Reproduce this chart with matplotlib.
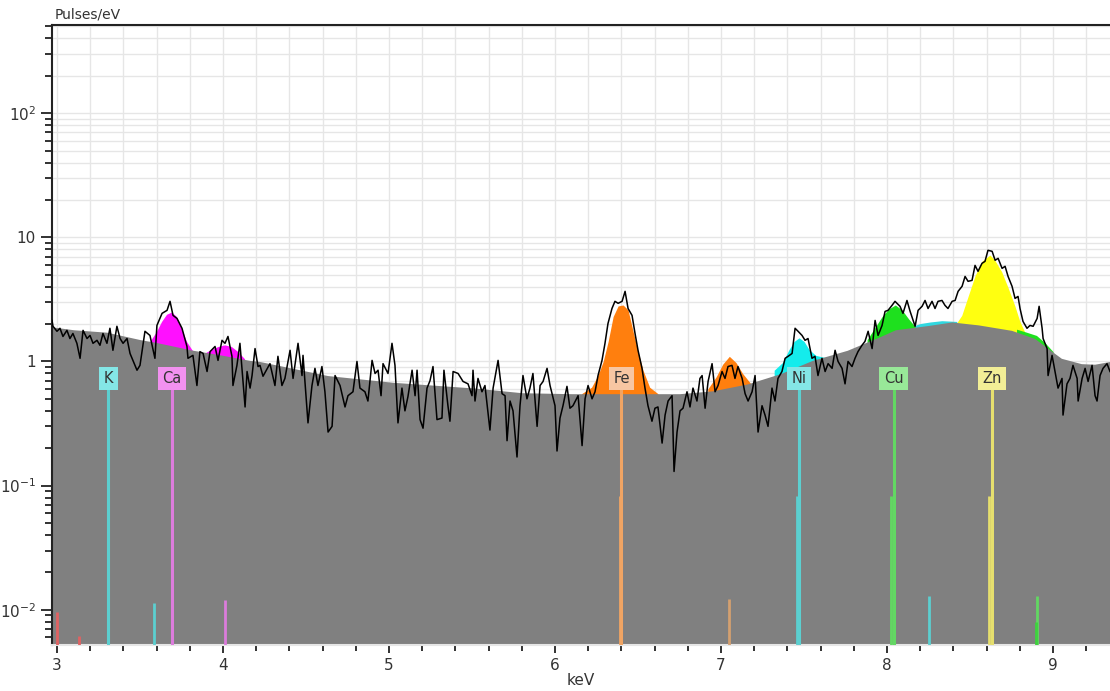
import numpy as np
import matplotlib
matplotlib.use("Agg")
import matplotlib.pyplot as plt
from matplotlib.ticker import FixedLocator, FuncFormatter, LogLocator, MultipleLocator, NullFormatter

spec_kev = [2.970, 2.976, 3.000, 3.018, 3.036, 3.060, 3.078, 3.096, 3.120, 3.139,
            3.157, 3.181, 3.199, 3.217, 3.241, 3.259, 3.277, 3.301, 3.319, 3.337,
            3.361, 3.380, 3.398, 3.422, 3.440, 3.482, 3.500, 3.530, 3.560, 3.590,
            3.602, 3.633, 3.663, 3.681, 3.699, 3.723, 3.753, 3.783, 3.789, 3.819,
            3.843, 3.861, 3.880, 3.904, 3.922, 3.952, 3.970, 3.994, 4.012, 4.030,
            4.054, 4.060, 4.084, 4.102, 4.133, 4.145, 4.163, 4.175, 4.193, 4.211,
            4.223, 4.241, 4.283, 4.313, 4.331, 4.355, 4.373, 4.404, 4.422, 4.452,
            4.476, 4.482, 4.512, 4.536, 4.554, 4.572, 4.596, 4.614, 4.633, 4.657,
            4.675, 4.705, 4.735, 4.753, 4.783, 4.807, 4.825, 4.855, 4.873, 4.898,
            4.916, 4.934, 4.952, 4.964, 4.994, 5.018, 5.036, 5.054, 5.078, 5.096,
            5.114, 5.139, 5.157, 5.169, 5.187, 5.205, 5.229, 5.247, 5.265, 5.289,
            5.319, 5.331, 5.355, 5.367, 5.386, 5.416, 5.446, 5.476, 5.500, 5.506,
            5.518, 5.536, 5.560, 5.578, 5.608, 5.627, 5.657, 5.681, 5.699, 5.711,
            5.729, 5.747, 5.771, 5.789, 5.807, 5.831, 5.849, 5.867, 5.892, 5.910,
            5.928, 5.952, 5.970, 6.000, 6.012, 6.030, 6.048, 6.072, 6.090, 6.108,
            6.139, 6.163, 6.181, 6.199, 6.223, 6.241, 6.259, 6.283, 6.301, 6.319,
            6.343, 6.361, 6.380, 6.404, 6.422, 6.440, 6.464, 6.482, 6.500, 6.524,
            6.542, 6.560, 6.584, 6.602, 6.620, 6.645, 6.663, 6.681, 6.705, 6.717,
            6.735, 6.753, 6.771, 6.795, 6.813, 6.831, 6.855, 6.873, 6.886, 6.904,
            6.922, 6.946, 6.964, 6.982, 7.006, 7.024, 7.042, 7.066, 7.084, 7.102,
            7.127, 7.145, 7.163, 7.187, 7.205, 7.223, 7.247, 7.265, 7.283, 7.307,
            7.325, 7.343, 7.367, 7.386, 7.404, 7.428, 7.446, 7.464, 7.488, 7.506,
            7.524, 7.548, 7.566, 7.584, 7.608, 7.627, 7.645, 7.669, 7.687, 7.705,
            7.729, 7.747, 7.765, 7.789, 7.807, 7.825, 7.849, 7.867, 7.886, 7.910,
            7.928, 7.946, 7.970, 7.988, 8.006, 8.030, 8.048, 8.078, 8.096, 8.120,
            8.139, 8.169, 8.187, 8.211, 8.229, 8.247, 8.271, 8.289, 8.307, 8.331,
            8.349, 8.367, 8.392, 8.410, 8.428, 8.452, 8.470, 8.488, 8.512, 8.530,
            8.548, 8.572, 8.590, 8.608, 8.633, 8.651, 8.669, 8.693, 8.711, 8.729,
            8.753, 8.771, 8.789, 8.801, 8.819, 8.843, 8.861, 8.880, 8.904, 8.916,
            8.934, 8.940, 8.964, 8.970, 8.994, 9.012, 9.030, 9.054, 9.060, 9.084,
            9.102, 9.120, 9.145, 9.151, 9.175, 9.193, 9.211, 9.235, 9.253, 9.265,
            9.283, 9.301, 9.325, 9.343]
spec_val = [2.14, 1.92, 1.75, 1.85, 1.59, 1.78, 1.53, 1.68, 1.40, 1.06,
            1.78, 1.53, 1.62, 1.40, 1.48, 1.35, 1.68, 1.40, 1.85, 1.23,
            1.92, 1.53, 1.40, 1.53, 1.16, 0.85, 0.93, 1.75, 1.62, 1.06,
            1.95, 2.44, 2.58, 3.05, 2.35, 2.22, 1.85, 1.32, 1.06, 1.12,
            0.64, 1.20, 1.16, 0.83, 1.20, 1.32, 1.02, 1.48, 1.40, 1.59,
            1.10, 0.64, 0.93, 1.40, 0.43, 0.83, 0.61, 0.77, 1.27, 0.91,
            0.93, 0.76, 0.96, 0.64, 1.10, 0.64, 0.73, 1.23, 0.73, 1.40,
            0.77, 1.12, 0.32, 0.64, 0.88, 0.64, 0.91, 0.57, 0.27, 0.30,
            0.77, 0.64, 0.43, 0.53, 0.57, 1.00, 0.61, 0.57, 0.48, 1.02,
            0.80, 0.85, 0.53, 0.96, 0.80, 1.40, 0.93, 0.32, 0.61, 0.40,
            0.52, 0.85, 0.53, 0.85, 0.34, 0.29, 0.61, 0.70, 0.91, 0.34,
            0.35, 0.85, 0.44, 0.33, 0.83, 0.80, 0.69, 0.66, 0.53, 0.85,
            0.48, 0.73, 0.57, 0.64, 0.28, 0.61, 1.02, 0.55, 0.53, 0.23,
            0.48, 0.40, 0.17, 0.44, 0.77, 0.50, 0.61, 0.80, 0.30, 0.64,
            0.69, 0.88, 0.64, 0.44, 0.19, 0.35, 0.44, 0.63, 0.42, 0.44,
            0.53, 0.21, 0.50, 0.64, 0.50, 0.57, 0.77, 1.02, 1.40, 2.02,
            2.67, 3.05, 2.94, 3.05, 3.67, 2.67, 2.35, 1.68, 1.23, 0.88,
            0.61, 0.44, 0.33, 0.42, 0.43, 0.22, 0.37, 0.48, 0.53, 0.13,
            0.27, 0.40, 0.42, 0.57, 0.43, 0.61, 0.48, 0.73, 0.77, 0.42,
            0.69, 0.96, 0.57, 0.64, 0.83, 0.73, 0.91, 0.93, 0.73, 0.91,
            0.73, 0.55, 0.48, 0.57, 0.77, 0.27, 0.44, 0.37, 0.30, 0.61,
            0.48, 0.73, 0.83, 1.06, 1.10, 1.16, 1.85, 1.75, 1.62, 1.48,
            1.53, 1.06, 1.10, 0.77, 1.06, 0.83, 0.96, 0.88, 1.23, 1.00,
            0.88, 0.66, 1.00, 0.91, 1.06, 1.20, 1.35, 1.45, 1.75, 1.27,
            2.14, 1.62, 1.95, 2.53, 2.58, 2.83, 3.05, 2.78, 2.44, 3.10,
            2.53, 1.92, 2.58, 2.78, 3.10, 2.67, 3.05, 2.67, 3.05, 3.10,
            2.83, 2.67, 3.05, 3.10, 3.67, 4.03, 4.84, 4.42, 4.50, 5.94,
            5.32, 6.17, 6.40, 7.86, 7.71, 6.53, 6.77, 5.62, 5.84, 4.84,
            4.03, 3.22, 3.34, 2.67, 2.10, 1.85, 1.95, 1.92, 2.22, 2.78,
            1.85, 1.53, 1.27, 0.77, 1.12, 0.83, 0.61, 0.73, 0.37, 0.66,
            0.73, 0.93, 0.73, 0.48, 0.73, 0.88, 0.69, 0.93, 0.53, 0.48,
            0.77, 0.88, 0.96, 0.83]

# fitted background
bg_kev = [2.97, 3.10, 3.30, 3.50, 3.60, 3.82, 4.00, 4.16, 4.22, 4.63, 5.02, 5.52,
          5.80, 6.10, 6.75, 6.95, 7.16, 7.36, 7.55, 7.76, 7.96, 8.05, 8.25, 8.39,
          8.55, 8.75, 8.89, 8.97, 9.05, 9.17, 9.25, 9.343]
bg_val = [1.90, 1.80, 1.72, 1.50, 1.42, 1.23, 1.12, 1.02, 1.00, 0.77, 0.68, 0.61,
          0.56, 0.55, 0.55, 0.58, 0.66, 0.80, 1.02, 1.23, 1.59, 1.80, 1.95, 2.08,
          1.97, 1.78, 1.53, 1.27, 1.06, 0.96, 0.95, 1.00]

# fitted peak profiles (top edge)
ca_ka_kev = [3.56, 3.60, 3.63, 3.66, 3.69, 3.72, 3.75, 3.78, 3.82]
ca_ka_val = [1.45, 1.75, 2.10, 2.40, 2.50, 2.30, 1.85, 1.45, 1.20]
ca_kb_kev = [3.88, 3.93, 3.97, 4.01, 4.05, 4.09, 4.13]
ca_kb_val = [1.15, 1.25, 1.32, 1.36, 1.32, 1.20, 1.05]
fe_ka_kev = [6.16, 6.22, 6.26, 6.29, 6.32, 6.35, 6.38, 6.41, 6.44, 6.47, 6.50, 6.53, 6.57, 6.62]
fe_ka_val = [0.55, 0.62, 0.78, 1.00, 1.45, 2.30, 2.80, 2.85, 2.60, 1.75, 1.20, 0.85, 0.62, 0.55]
fe_kb_kev = [6.92, 6.97, 7.01, 7.05, 7.09, 7.13, 7.18]
fe_kb_val = [0.60, 0.75, 0.95, 1.10, 0.98, 0.80, 0.66]
ni_ka_kev = [7.32, 7.37, 7.41, 7.44, 7.47, 7.50, 7.53, 7.57, 7.62, 7.66]
ni_ka_val = [0.85, 0.98, 1.25, 1.45, 1.55, 1.45, 1.25, 1.12, 1.08, 1.08]
ni_kb_kev = [8.12, 8.20, 8.26, 8.33, 8.42]
ni_kb_val = [1.86, 2.02, 2.08, 2.13, 2.10]
cu_ka_kev = [7.88, 7.93, 7.97, 8.01, 8.05, 8.09, 8.13, 8.17]
cu_ka_val = [1.50, 1.90, 2.30, 2.65, 2.85, 2.60, 2.20, 1.90]
zn_ka_kev = [8.42, 8.45, 8.49, 8.53, 8.57, 8.62, 8.65, 8.69, 8.73, 8.77, 8.80, 8.83]
zn_ka_val = [2.05, 2.35, 3.40, 4.90, 6.40, 7.20, 6.50, 5.30, 3.90, 2.80, 2.10, 1.72]
cu_kb_kev = [8.78, 8.84, 8.90, 8.95, 9.00]
cu_kb_val = [1.82, 1.72, 1.62, 1.42, 1.20]

# element labels
elements = ["K", "Ca", "Fe", "Ni", "Cu", "Zn"]
element_kev = [3.31, 3.69, 6.40, 7.47, 8.04, 8.63]
box_colors = ["#84e6e6", "#f291f0", "#f7c6a2", "#84e6e6", "#98e898", "#f2ee96"]
line_colors = ["#5ccfd0", "#dc7cdc", "#f0a463", "#5ccfd0", "#62d862", "#e6df6e"]

# alpha-2 lines next to the main ones
ka2_kev = [6.39, 7.455, 8.025, 8.615]
ka2_val = [0.083, 0.083, 0.083, 0.083]
ka2_colors = ["#f0a463", "#5ccfd0", "#62d862", "#e6df6e"]

# small lines at the bottom
small_kev = [3.00, 3.13, 3.585, 4.01, 7.05, 8.255, 8.905, 8.895]
small_val = [0.0096, 0.0062, 0.0113, 0.012, 0.0123, 0.013, 0.013, 0.0079]
small_colors = ["#e06262", "#e06262", "#5ccfd0", "#dc7cdc", "#d4a070", "#5ccfd0", "#62d862", "#3ed23e"]

ymin, ymax = 0.0052, 513
floor = 1e-3

fig = plt.figure(figsize=(11.10, 6.91), dpi=100)
ax = fig.add_axes([52/1110, 1 - 645/691, 1 - 52/1110, (645 - 25)/691])

# peaks first, the background hides their lower part
ax.fill_between(ca_ka_kev, floor, ca_ka_val, color="#ff10ff", lw=0, zorder=1)
ax.fill_between(ca_kb_kev, floor, ca_kb_val, color="#ff10ff", lw=0, zorder=1)
ax.fill_between(fe_ka_kev, floor, fe_ka_val, color="#ff7f0e", lw=0, zorder=1)
ax.fill_between(fe_kb_kev, floor, fe_kb_val, color="#ff7f0e", lw=0, zorder=1)
ax.fill_between(ni_ka_kev, floor, ni_ka_val, color="#14ecec", lw=0, zorder=1)
ax.fill_between(ni_kb_kev, floor, ni_kb_val, color="#30d8e0", lw=0, zorder=1)
ax.fill_between(cu_ka_kev, floor, cu_ka_val, color="#1ee01e", lw=0, zorder=1)
ax.fill_between(zn_ka_kev, floor, zn_ka_val, color="#ffff10", lw=0, zorder=1)
ax.fill_between(cu_kb_kev, floor, cu_kb_val, color="#1ee01e", lw=0, zorder=1.1)

ax.fill_between(bg_kev, floor, bg_val, color="#808080", lw=0, zorder=2)

# marker lines
for e, c in zip(element_kev, line_colors):
    ax.vlines(e, floor, 0.61, color=c, lw=2.2, zorder=3)
ax.vlines(ka2_kev, floor, ka2_val, colors=ka2_colors, lw=2, zorder=3)
ax.vlines(small_kev, floor, small_val, colors=small_colors, lw=2, zorder=3)

ax.plot(spec_kev, spec_val, color="black", lw=1.1, zorder=4)

for name, e, c in zip(elements, element_kev, box_colors):
    ax.text(e, 0.73, name, ha="center", va="center", fontsize=10.5, color="#333333",
            zorder=5, bbox=dict(boxstyle="square,pad=0.3", fc=c, ec="none"))

ax.set_yscale("log")
ax.set_xlim(2.97, 9.343)
ax.set_ylim(ymin, ymax)

ylabels = {100: "$10^2$", 10: "10", 1: "1", 0.1: "$10^{-1}$", 0.01: "$10^{-2}$"}
ax.yaxis.set_major_locator(FixedLocator(list(ylabels.keys())))
ax.yaxis.set_major_formatter(FuncFormatter(lambda v, p: ylabels.get(round(v, 3), "")))
ax.yaxis.set_minor_locator(LogLocator(base=10, subs=np.arange(2, 10)))
ax.yaxis.set_minor_formatter(NullFormatter())
ax.xaxis.set_major_locator(MultipleLocator(1))
ax.xaxis.set_minor_locator(MultipleLocator(0.2))

ax.tick_params(which="major", direction="out", length=8, width=1.3, labelsize=11,
               color="#222222", labelcolor="#333333")
ax.tick_params(which="minor", direction="out", length=5, width=1.3, color="#222222")
ax.tick_params(axis="x", which="major", length=6)
ax.tick_params(axis="x", which="minor", length=4)

ax.grid(True, which="both", color="#e6e6e6", lw=1)
ax.set_axisbelow(True)

for s in ["top", "left"]:
    ax.spines[s].set_color("#222222")
    ax.spines[s].set_linewidth(1.5)
ax.spines["right"].set_visible(False)
ax.spines["bottom"].set_color("#e6e6e6")
ax.spines["bottom"].set_linewidth(1.5)

ax.set_xlabel("keV", fontsize=11, labelpad=0, color="#333333")
fig.text(55/1110, 1 - 15/691, "Pulses/eV", fontsize=10, va="center", ha="left", color="#333333")

fig.savefig("out.png", dpi=100)
